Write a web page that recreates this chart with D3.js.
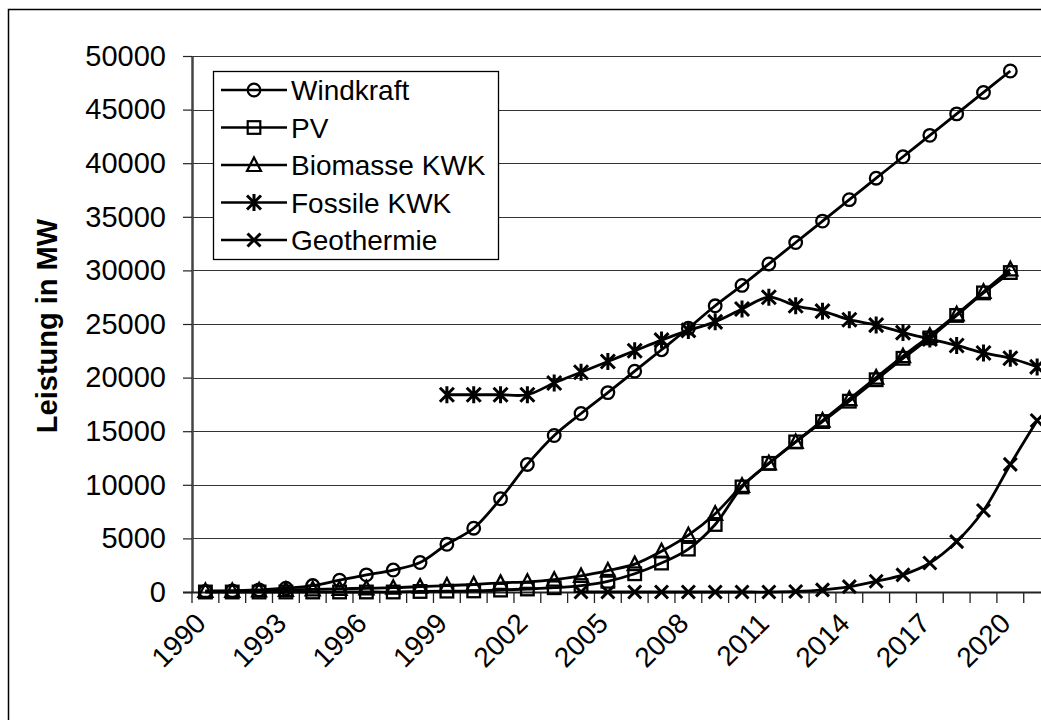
<!DOCTYPE html>
<html>
<head>
<meta charset="utf-8">
<script src="https://cdn.jsdelivr.net/npm/d3@7"></script>
<style>
body{margin:0;background:#fff}
svg{display:block;font-family:"Liberation Sans",Arial,sans-serif}
</style>
</head>
<body>
<svg id="chart" width="1041" height="720"></svg>
<script>

// categories (the chart is cut at the right edge, so 2022 is only there for the band)
let years = [1990,1991,1992,1993,1994,1995,1996,1997,1998,1999,2000,2001,2002,2003,2004,2005,
  2006,2007,2008,2009,2010,2011,2012,2013,2014,2015,2016,2017,2018,2019,2020,2021,2022]

let year_labels = [1990,1993,1996,1999,2002,2005,2008,2011,2014,2017,2020]

let y_ticks = [0,5000,10000,15000,20000,25000,30000,35000,40000,45000,50000]

let windkraft = [50,100,200,350,600,1100,1600,2050,2750,4450,5950,8700,11900,14600,16650,18600,
  20600,22600,24600,26700,28600,30600,32600,34600,36600,38600,40600,42600,44600,46600,48600]

let pv = [0,0,0,0,0,0,0,0,50,80,100,180,280,400,600,1000,
  1700,2700,4000,6300,9800,12000,14000,15900,17800,19800,21800,23700,25800,27900,29800]

let biomasse = [100,100,150,200,250,300,350,400,500,600,700,850,950,1150,1500,2000,
  2600,3800,5300,7300,9900,12000,14000,16000,18000,20000,22000,23900,25900,28000,30100]

let fossil = [null,null,null,null,null,null,null,null,null,18400,18400,18400,18400,19500,20500,21500,
  22500,23500,24400,25200,26400,27500,26700,26200,25400,24900,24200,23600,23000,22300,21800,21000]

let geothermie = [null,null,null,null,null,null,null,null,null,null,null,null,null,null,0,0,
  0,0,0,0,0,0,50,200,500,1000,1600,2700,4700,7600,11900,16000]

let series_names = ['Windkraft','PV','Biomasse KWK','Fossile KWK','Geothermie']
let series_markers = ['circle','square','triangle','star','cross']
let all_series = [windkraft, pv, biomasse, fossil, geothermie]


let svg = d3.select('#chart')

let x = d3.scaleBand()
.domain(years)
.range([192, 192 + 26.83 * years.length])
.paddingInner(0)
.paddingOuter(0)

let y = d3.scaleLinear()
.domain([0,50000])
.range([592,56])

let cx = d => x(d) + x.bandwidth()/2


// chart frame (right and bottom edges fall outside the picture)
svg.append('rect')
.attr('x', 8.5)
.attr('y', 9.5)
.attr('width', 1100)
.attr('height', 800)
.attr('fill', 'none')
.attr('stroke', '#000')
.attr('stroke-width', 1.5)


// gridlines
svg.append('g')
.selectAll('line')
.data(y_ticks.filter(d => d > 0))
.join('line')
.attr('x1', 192)
.attr('x2', 1041)
.attr('y1', d => Math.round(y(d)) + 0.5)
.attr('y2', d => Math.round(y(d)) + 0.5)
.attr('stroke', '#333')
.attr('stroke-width', 1.2)


// y axis
let yAxis = svg.append('g')
.attr('transform', 'translate(192,0)')
.call(d3.axisLeft(y).tickValues(y_ticks).tickSize(9).tickSizeOuter(0).tickPadding(17).tickFormat(d => d))

yAxis.select('.domain').attr('stroke', '#444').attr('stroke-width', 2.5)
yAxis.selectAll('.tick line').attr('stroke', '#222').attr('stroke-width', 1.2)
yAxis.selectAll('.tick text')
.attr('font-size', 29)
.attr('font-family', '"Liberation Sans",Arial,sans-serif')
.attr('fill', '#000')


// x axis
let tick_pos = years.map(d => x(d))

svg.append('g')
.selectAll('line')
.data(tick_pos)
.join('line')
.attr('x1', d => d)
.attr('x2', d => d)
.attr('y1', 592)
.attr('y2', 603)
.attr('stroke', '#222')
.attr('stroke-width', 1.3)

svg.append('line')
.attr('x1', 183)
.attr('x2', 1041)
.attr('y1', 592.5)
.attr('y2', 592.5)
.attr('stroke', '#222')
.attr('stroke-width', 2.2)

svg.append('g')
.selectAll('text')
.data(year_labels)
.join('text')
.attr('transform', d => `translate(${cx(d) + 2},625) rotate(-45)`)
.attr('text-anchor', 'end')
.attr('font-size', 28)
.attr('fill', '#000')
.text(d => d)


// y title
svg.append('text')
.attr('transform', 'translate(57,326) rotate(-90)')
.attr('text-anchor', 'middle')
.attr('font-size', 29)
.attr('font-weight', 'bold')
.attr('fill', '#000')
.text('Leistung in MW')


// markers
function drawMarker(g, type){
  if (type == 'circle'){
    g.append('circle').attr('r', 6.3)
  }
  else if (type == 'square'){
    g.append('rect').attr('x', -6.3).attr('y', -6.3).attr('width', 12.6).attr('height', 12.6)
  }
  else if (type == 'triangle'){
    g.append('path').attr('d', 'M0,-7.5L7,6L-7,6Z')
  }
  else if (type == 'star'){
    g.append('path').attr('d', 'M0,-8.5V8.5M-7,-7L7,7M7,-7L-7,7')
  }
  else {
    g.append('path').attr('d', 'M-6.5,-6.5L6.5,6.5M6.5,-6.5L-6.5,6.5')
  }
}


let line = d3.line()
.defined(d => d.v != null)
.x(d => cx(d.year))
.y(d => y(d.v))
.curve(d3.curveCatmullRom.alpha(0.5))

all_series.forEach((s, i) => {

  let pts = s.map((v, j) => ({year: years[j], v: v})).filter(d => d.v != null)

  svg.append('path')
  .datum(pts)
  .attr('d', line)
  .attr('fill', 'none')
  .attr('stroke', '#000')
  .attr('stroke-width', 2.8)

  pts.forEach(p => {
    let g = svg.append('g')
    .attr('transform', `translate(${cx(p.year)},${y(p.v)})`)
    .attr('fill', 'none')
    .attr('stroke', '#000')
    .attr('stroke-width', series_markers[i] == 'star' || series_markers[i] == 'cross' ? 3 : 2.3)
    drawMarker(g, series_markers[i])
  })

})


// legend
let legend = svg.append('g')

legend.append('rect')
.attr('x', 213.5)
.attr('y', 71.5)
.attr('width', 285)
.attr('height', 188)
.attr('fill', '#fff')
.attr('stroke', '#000')
.attr('stroke-width', 1.3)

series_names.forEach((name, i) => {

  let ly = 90 + i * 37.5

  legend.append('line')
  .attr('x1', 221)
  .attr('x2', 287)
  .attr('y1', ly)
  .attr('y2', ly)
  .attr('stroke', '#000')
  .attr('stroke-width', 2.4)

  let g = legend.append('g')
  .attr('transform', `translate(254,${ly})`)
  .attr('fill', 'none')
  .attr('stroke', '#000')
  .attr('stroke-width', series_markers[i] == 'star' || series_markers[i] == 'cross' ? 3 : 2.2)
  drawMarker(g, series_markers[i])

  legend.append('text')
  .attr('x', 291)
  .attr('y', ly + 10)
  .attr('font-size', 28)
  .attr('fill', '#000')
  .text(name)

})

</script>
</body>
</html>
